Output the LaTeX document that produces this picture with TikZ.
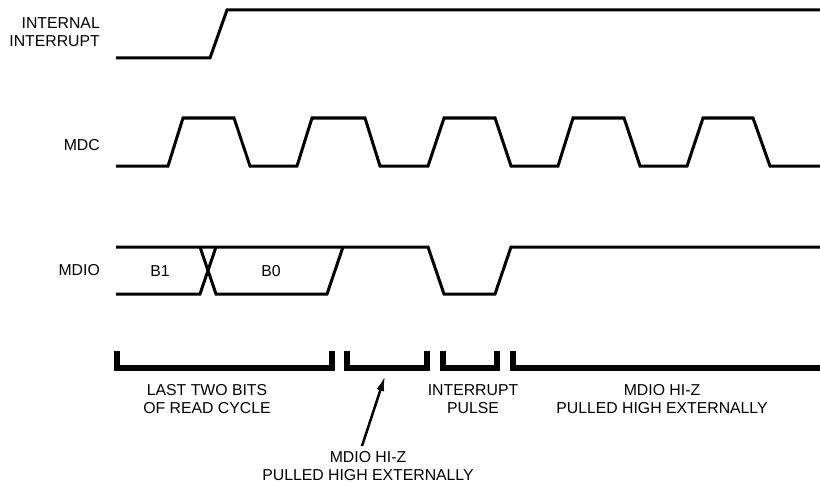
\documentclass[tikz,border=0pt]{standalone}
\usepackage{fontspec}
\setmainfont{Liberation Sans}
\usetikzlibrary{arrows.meta}
\begin{document}
\begin{tikzpicture}[x=1pt,y=-1pt,
  wave/.style={line width=3pt,line join=miter},
  brk/.style={line width=6.5pt,line join=miter},
  lbl/.style={font=\fontsize{15.8}{18}\selectfont,inner sep=0pt,align=center},
  sig/.style={lbl,anchor=east,align=right}]
\useasboundingbox (0,0) rectangle (820,487);
% signal names
\node[sig] (ii) at (100,32) {INTERNAL\\INTERRUPT};
\node[sig] (mdc) at (100,145) {MDC};
\node[sig] (mdio) at (100,270) {MDIO};
% internal interrupt
\draw[wave] (116,58) -- (210,58) -- (227,10) -- (820,10);
% MDC
\draw[wave] (116,166) -- (168,166) -- (183,118) -- (234,118) -- (250,166)
  -- (297,166) -- (312,118) -- (365,118) -- (380,166)
  -- (428,166) -- (444,118) -- (495,118) -- (511,166)
  -- (558,166) -- (573,118) -- (624,118) -- (640,166)
  -- (687,166) -- (703,118) -- (753,118) -- (770,166) -- (820,166);
% MDIO
\draw[wave] (116,247) -- (428,247) -- (444,294) -- (495,294) -- (511,247) -- (820,247);
\draw[wave] (116,294) -- (200,294) -- (216,247);
\draw[wave] (200,247) -- (216,294) -- (327,294) -- (343,247);
\node[lbl] (b1) at (160,271) {B1};
\node[lbl] (b0) at (271,271) {B0};
% brackets
\draw[brk] (117,351) -- (117,368) -- (332,368) -- (332,351);
\draw[brk] (347,351) -- (347,368) -- (427,368) -- (427,351);
\draw[brk] (443,351) -- (443,368) -- (497,368) -- (497,351);
\draw[brk] (513,351) -- (513,368) -- (820,368);
% bracket labels
\node[lbl] (l1) at (207,399) {LAST TWO BITS\\OF READ CYCLE};
\node[lbl] (l3) at (473,399) {INTERRUPT\\PULSE};
\node[lbl] (l4) at (662,399) {MDIO HI-Z\\PULLED HIGH EXTERNALLY};
\node[lbl] (l2) at (368,466) {MDIO HI-Z\\PULLED HIGH EXTERNALLY};
\coordinate (tail) at (362,446);
\coordinate (tip) at (385,376);
\draw[line width=2.5pt,-{Latex[length=15pt,width=8pt]}] (tail) -- (tip);
\end{tikzpicture}
\end{document}
